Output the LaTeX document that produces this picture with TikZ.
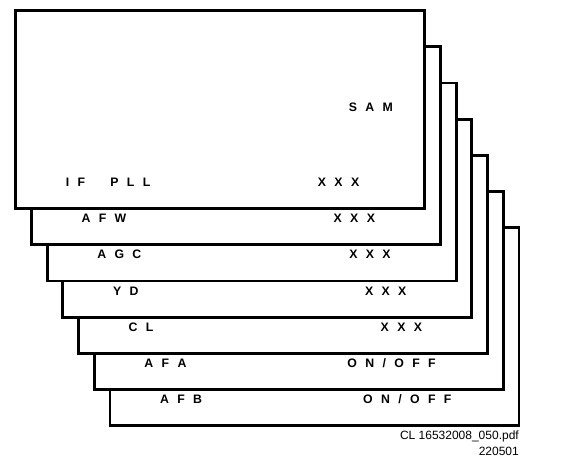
\documentclass[tikz,border=0pt]{standalone}
\usepackage{fontspec}
\setmainfont{Liberation Sans}
\newfontfamily\cardfont[WordSpace=2.45]{Liberation Sans Bold}
\usetikzlibrary{calc}

\begin{document}
\begin{tikzpicture}[x=1pt,y=-1pt]
             \tikzstyle{card}=[draw,fill=white,line width=2.8pt,outer sep=0pt,inner sep=0pt,anchor=north west,minimum width=409pt,minimum height=198pt]
             \tikzstyle{tag}=[anchor=base west,inner sep=0pt,font=\cardfont\fontsize{12.3}{14}\selectfont]
             \tikzstyle{stamp}=[anchor=base east,inner sep=0pt,font=\fontsize{12}{14}\selectfont]
             \useasboundingbox (0,0) rectangle (576,461);
             % cards from back to front
             \foreach \i/\name/\val/\vx in {7/{A F B}/{O N / O F F}/253, 6/{A F A}/{O N / O F F}/253,
                5/{C L}/{X X X}/302, 4/{Y D}/{X X X}/302, 3/{A G C}/{X X X}/302,
                2/{A F W}/{X X X}/302, 1/{I F \ \ P L L}/{X X X}/302}
             {
               \node [card] (card\i) at ({15.7*\i},{36.2*\i-25.7}) {};
               \node [tag] (name\i) at ($(card\i.north west)+(50,176)$) {\name};
               \node [tag] (val\i) at ($(card\i.north west)+(\vx,176)$) {\val};
             }
             \node [tag] (sam) at ($(card1.north west)+(333,101)$) {S A M};
             \node [stamp] (file) at (519,439.5) {CL 16532008\_050.pdf};
             \node [stamp] (date) at (519,455.5) {220501};
\end{tikzpicture}
\end{document}
